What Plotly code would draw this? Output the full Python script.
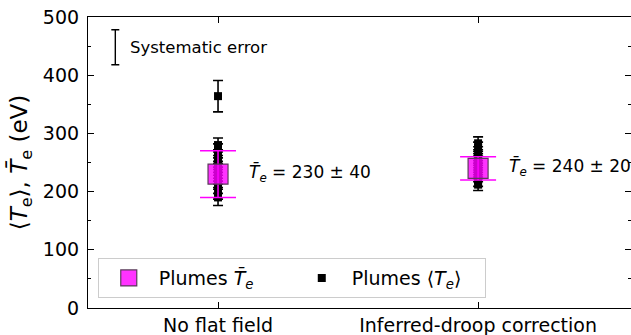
import plotly.graph_objects as go

# Category positions on the x axis
categories = ["No flat field", "Inferred-droop correction"]
cat_pos = [0, 1]

# Individual plume temperatures <T_e> (eV) and their uncertainties
plume_te_nff = [364, 280, 270, 260, 250, 240, 230, 220, 210, 200, 190]
plume_err_nff = [27, 12, 12, 12, 12, 12, 12, 13, 13, 13, 14]
plume_te_idc = [283, 275, 267, 259, 251, 243, 235, 227, 219, 212]
plume_err_idc = [11, 10, 10, 10, 10, 10, 10, 10, 10, 10]

# Weighted mean temperature and its uncertainty for each case
mean_te = [230, 240]
mean_err = [40, 20]

# Systematic error indicator
sys_x = -0.395
sys_y = 448
sys_err = 30

FONT = "DejaVu Sans, sans-serif"

fig = go.Figure()

# Individual plume points
px = [cat_pos[0]] * len(plume_te_nff) + [cat_pos[1]] * len(plume_te_idc)
py = plume_te_nff + plume_te_idc
pe = plume_err_nff + plume_err_idc
fig.add_trace(go.Scatter(
    x=px, y=py, mode="markers",
    marker=dict(symbol="square", size=8, color="black"),
    error_y=dict(type="data", array=pe, visible=True, color="black",
                 thickness=1.6, width=5),
    name="Plumes ⟨<i>T<sub>e</sub></i>⟩",
    legendrank=2,
))

# Mean temperatures
fig.add_trace(go.Scatter(
    x=cat_pos, y=mean_te, mode="markers",
    marker=dict(symbol="square", size=20, color="rgba(255,0,255,0.8)",
                line=dict(color="#5a3a5a", width=1.2)),
    error_y=dict(type="data", array=mean_err, visible=True,
                 color="#ff00ff", thickness=1.5, width=18),
    name="Plumes <i>T̄<sub>e</sub></i>",
    legendrank=1,
))

# Systematic error bar
fig.add_trace(go.Scatter(
    x=[sys_x], y=[sys_y], mode="markers",
    marker=dict(size=0.1, color="black", opacity=0),
    error_y=dict(type="data", array=[sys_err], visible=True, color="black",
                 thickness=1.4, width=4),
    showlegend=False, hoverinfo="skip",
))

# Right-hand tick marks without a spine
fig.add_trace(go.Scatter(x=[None], y=[None], yaxis="y2", showlegend=False))

fig.add_annotation(x=sys_x + 0.05, y=sys_y, text="Systematic error",
                   showarrow=False, xanchor="left", yanchor="middle",
                   font=dict(size=16.5, color="black", family=FONT))

for xc, m, e in zip(cat_pos, mean_te, mean_err):
    fig.add_annotation(x=xc + 0.11, y=m + 2,
                       text=f"<i>T̄<sub>e</sub></i> = {m} ± {e}",
                       showarrow=False, xanchor="left", yanchor="middle",
                       font=dict(size=17, color="black", family=FONT))

fig.update_layout(
    width=631, height=335,
    margin=dict(l=88, r=0, t=17, b=27),
    paper_bgcolor="white", plot_bgcolor="white",
    font=dict(family=FONT, color="black", size=18),
    showlegend=True,
    legend=dict(orientation="h", x=0.018, y=0.034, xanchor="left",
                yanchor="bottom", bordercolor="#cccccc", borderwidth=1,
                bgcolor="rgba(255,255,255,0.8)",
                font=dict(size=19, family=FONT),
                itemwidth=50, entrywidth=128, traceorder="normal"),
    xaxis=dict(range=[-0.5, 1.588], tickvals=cat_pos, ticktext=categories,
               ticks="inside", ticklen=6, tickwidth=1, tickcolor="black",
               showline=True, linecolor="black", linewidth=1.2,
               mirror="ticks", showgrid=False, zeroline=False,
               tickfont=dict(size=19)),
    yaxis=dict(range=[0, 500], dtick=100, ticks="inside", ticklen=6,
               tickwidth=1, tickcolor="black",
               showline=True, linecolor="black", linewidth=1.2,
               showgrid=False, zeroline=False, ticklabelstandoff=4,
               minor=dict(dtick=50, ticks="inside", ticklen=3,
                          tickcolor="black", tickwidth=0.8),
               tickfont=dict(size=19),
               title=dict(text="⟨<i>T</i><sub>e</sub>⟩, <i>T̄</i><sub>e</sub> (eV)",
                          font=dict(size=23), standoff=8)),
    yaxis2=dict(range=[0, 500], dtick=100, overlaying="y", side="right",
                ticks="inside", ticklen=6, tickwidth=1, tickcolor="black",
                showticklabels=False, showline=False, showgrid=False,
                zeroline=False,
                minor=dict(dtick=50, ticks="inside", ticklen=3,
                           tickcolor="black", tickwidth=0.8)),
)

fig.write_html("out.html")
